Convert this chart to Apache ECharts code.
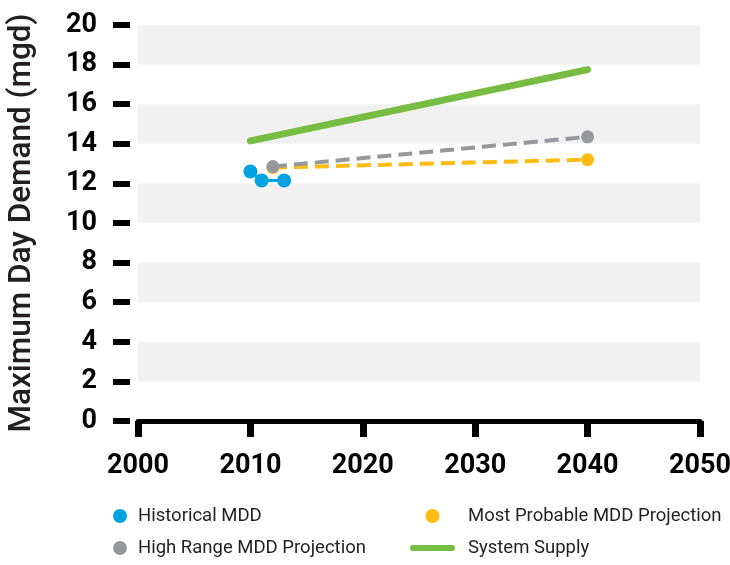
<!DOCTYPE html>
<html>
<head>
<meta charset="utf-8">
<script src="https://cdn.jsdelivr.net/npm/echarts@6/dist/echarts.min.js"></script>
<style>
  html, body { margin: 0; padding: 0; background: #fff; }
  #chart_view { width: 730px; height: 565px; }
</style>
</head>
<body>
<div id="chart_view"></div>
<script type="text/javascript">
  // data
  var xTicks = [2000, 2010, 2020, 2030, 2040, 2050];
  var yTicks = [0, 2, 4, 6, 8, 10, 12, 14, 16, 18, 20];
  var historical = [[2010, 12.6], [2011, 12.15], [2013, 12.15]];
  var mostProbable = [[2012, 12.8], [2040, 13.2]];
  var highRange = [[2012, 12.85], [2040, 14.35]];
  var systemSupply = [[2010, 14.15], [2040, 17.75]];

  var narrow = 'Roboto, "Liberation Sans", sans-serif';
  var ink = '#231f20';
  // rounded bar used as the legend mark of the supply line
  var barIcon = 'path://M3,0 H42 A3,3 0 0 1 42,6 H3 A3,3 0 0 1 3,0 Z';

  var myChart = echarts.init(document.getElementById('chart_view'));
  var option = {
    animation: false,
    grid: {
      left: 138,
      right: 30,
      top: 25,
      bottom: 144,
      outerBoundsMode: 'none',
      containLabel: false
    },
    legend: [
      {
        left: 113,
        top: 504,
        padding: 0,
        orient: 'vertical',
        itemWidth: 14,
        itemHeight: 14,
        itemGap: 8,
        textStyle: { fontFamily: narrow, fontSize: 18.5, lineHeight: 24, color: ink, padding: [0, 0, 0, 6] },
        data: [
          { name: 'Historical MDD', icon: 'circle' },
          { name: 'High Range MDD Projection', icon: 'circle' }
        ]
      },
      {
        left: 410,
        top: 504,
        padding: 0,
        orient: 'vertical',
        itemWidth: 45,
        itemHeight: 14,
        itemGap: 8,
        textStyle: { fontFamily: narrow, fontSize: 18.5, lineHeight: 24, color: ink, padding: [0, 0, 0, 8] },
        data: [
          { name: 'Most Probable MDD Projection', icon: 'circle' },
          { name: 'System Supply', icon: barIcon }
        ]
      }
    ],
    xAxis: [
      {
        type: 'value',
        min: xTicks[0],
        max: xTicks[xTicks.length - 1],
        interval: 10,
        offset: 10,
        axisLine: { show: false },
        axisTick: { show: true, length: 16, lineStyle: { width: 7, color: '#000' } },
        axisLabel: {
          margin: 22,
          fontFamily: narrow,
          fontWeight: 'bold',
          fontSize: 27,
          color: '#000',
          formatter: function (v) { return String(v); }
        },
        splitLine: { show: false }
      },
      {
        type: 'value',
        min: xTicks[0],
        max: xTicks[xTicks.length - 1],
        interval: 10,
        position: 'bottom',
        axisLine: { show: true, lineStyle: { width: 5, color: '#000' } },
        axisTick: { show: false },
        axisLabel: { show: false },
        splitLine: { show: false }
      }
    ],
    yAxis: {
      type: 'value',
      min: yTicks[0],
      max: yTicks[yTicks.length - 1],
      interval: 2,
      offset: 8,
      name: 'Maximum Day Demand (mgd)',
      nameLocation: 'middle',
      nameGap: 92,
      nameTextStyle: {
        fontFamily: 'Roboto, "Liberation Sans", sans-serif',
        fontWeight: 500,
        fontSize: 31.5,
        color: ink
      },
      axisLine: { show: false },
      axisTick: { show: true, length: 17, lineStyle: { width: 6, color: '#000' } },
      axisLabel: {
        margin: 33,
        fontFamily: narrow,
        fontWeight: 'bold',
        fontSize: 27,
        color: '#000'
      },
      splitLine: { show: false },
      splitArea: {
        show: true,
        areaStyle: { color: ['rgba(255,255,255,0)', '#f1f1f1'] }
      }
    },
    series: [
      {
        name: 'System Supply',
        type: 'line',
        data: systemSupply,
        showSymbol: false,
        symbol: 'none',
        color: '#77bc43',
        lineStyle: { width: 7, color: '#77bc43', cap: 'round' }
      },
      {
        name: 'Most Probable MDD Projection',
        type: 'line',
        data: mostProbable,
        symbol: 'circle',
        symbolSize: 13,
        color: '#fdbb13',
        itemStyle: { color: '#fdbb13' },
        lineStyle: { width: 4, color: '#fdbb13', type: [14, 7] }
      },
      {
        name: 'High Range MDD Projection',
        type: 'line',
        data: highRange,
        symbol: 'circle',
        symbolSize: 13,
        color: '#97989b',
        itemStyle: { color: '#97989b' },
        lineStyle: { width: 4, color: '#97989b', type: [14, 7] }
      },
      {
        name: 'Historical MDD',
        type: 'line',
        data: historical,
        symbol: 'circle',
        symbolSize: 14,
        color: '#00a3e2',
        itemStyle: { color: '#00a3e2' },
        lineStyle: { width: 3, color: '#00a3e2' }
      }
    ]
  };
  myChart.setOption(option);
</script>
</body>
</html>
